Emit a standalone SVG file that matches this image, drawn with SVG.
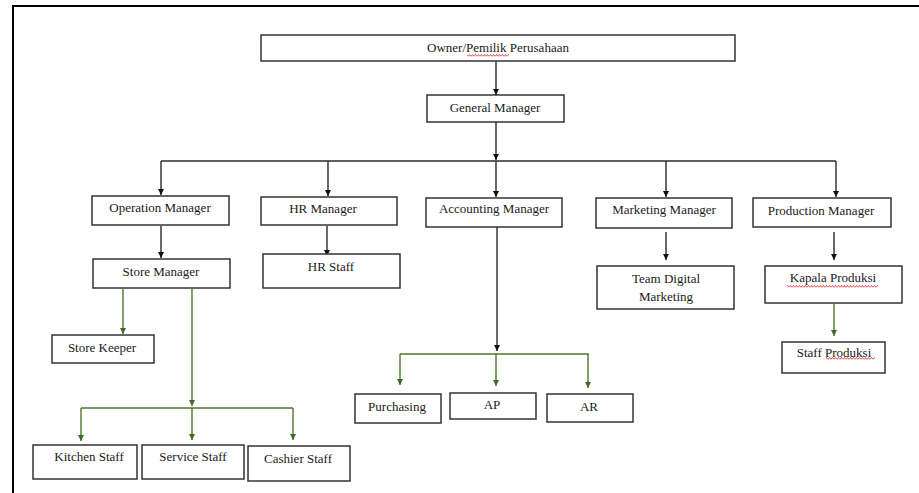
<svg xmlns="http://www.w3.org/2000/svg" width="919" height="493" viewBox="0 0 919 493">
<style>
.box{fill:#fff;stroke:#333;stroke-width:1.5}
.t{font-family:'Liberation Serif','DejaVu Serif',serif;font-size:13px;fill:#1a1a1a;text-anchor:middle}
.cb{fill:none;stroke:#2a2a2a;stroke-width:1.4}
.cg{fill:none;stroke:#4f7530;stroke-width:1.4}
.frame{fill:none;stroke:#000;stroke-width:2}
</style>
<defs>
<marker id="ab" markerUnits="userSpaceOnUse" markerWidth="7" markerHeight="7" refX="6" refY="3" orient="auto"><path d="M0,0 L6,3 L0,6 z" fill="#111"/></marker>
<marker id="ag" markerUnits="userSpaceOnUse" markerWidth="7" markerHeight="7" refX="6" refY="3" orient="auto"><path d="M0,0 L6,3 L0,6 z" fill="#3f6a22"/></marker>
<pattern id="sq" width="3" height="3" patternUnits="userSpaceOnUse"><path d="M0,2.5 L1.5,0.5 L3,2.5" stroke="#e02020" fill="none" stroke-width="0.8"/></pattern>
</defs>
<rect width="919" height="493" fill="#fff"/>
<path class="frame" d="M13,493 V6 H919"/>
<g id="connectors">
<path class="cb" d="M496,61 V95" marker-end="url(#ab)"/>
<path class="cb" d="M496,122 V160" marker-end="url(#ab)"/>
<path class="cb" d="M161,161 H836"/>
<path class="cb" d="M161,161 V195" marker-end="url(#ab)"/>
<path class="cb" d="M328,161 V196" marker-end="url(#ab)"/>
<path class="cb" d="M496,161 V197" marker-end="url(#ab)"/>
<path class="cb" d="M666,161 V197" marker-end="url(#ab)"/>
<path class="cb" d="M836,161 V197" marker-end="url(#ab)"/>
<path class="cb" d="M161,226 V258" marker-end="url(#ab)"/>
<path class="cb" d="M327,226 V256" marker-end="url(#ab)"/>
<path class="cb" d="M666,232 V260" marker-end="url(#ab)"/>
<path class="cb" d="M834,232 V260" marker-end="url(#ab)"/>
<path class="cb" d="M497,227 V351" marker-end="url(#ab)"/>
<path class="cg" d="M400,354 H589"/>
<path class="cg" d="M400,354 V385" marker-end="url(#ag)"/>
<path class="cg" d="M496,354 V386" marker-end="url(#ag)"/>
<path class="cg" d="M588,354 V388" marker-end="url(#ag)"/>
<path class="cg" d="M123,289 V334" marker-end="url(#ag)"/>
<path class="cg" d="M192,289 V406" marker-end="url(#ag)"/>
<path class="cg" d="M81,408 H293"/>
<path class="cg" d="M81,408 V441" marker-end="url(#ag)"/>
<path class="cg" d="M192,408 V440" marker-end="url(#ag)"/>
<path class="cg" d="M293,408 V440" marker-end="url(#ag)"/>
<path class="cg" d="M834,304 V336" marker-end="url(#ag)"/>
</g>
<g font-family="Liberation Serif, DejaVu Serif, serif">
<g id="owner"><rect class="box" x="261" y="35" width="474" height="26"/><text class="t" x="498" y="52">Owner/Pemilik Perusahaan</text><rect x="467" y="54" width="42" height="3" fill="url(#sq)"/></g>
<g id="gm"><rect class="box" x="427" y="95" width="137" height="27"/><text class="t" x="495" y="112">General Manager</text></g>
<g id="operation"><rect class="box" x="92" y="196" width="137" height="29"/><text class="t" x="160" y="212">Operation Manager</text></g>
<g id="hr"><rect class="box" x="261" y="197" width="136" height="28"/><text class="t" x="323" y="213">HR Manager</text></g>
<g id="accounting"><rect class="box" x="426" y="198" width="136" height="29"/><text class="t" x="494" y="213">Accounting Manager</text></g>
<g id="marketing"><rect class="box" x="596" y="198" width="136" height="30"/><text class="t" x="664" y="214">Marketing Manager</text></g>
<g id="production"><rect class="box" x="753" y="198" width="138" height="29"/><text class="t" x="821" y="215">Production Manager</text></g>
<g id="store-manager"><rect class="box" x="93" y="259" width="137" height="29"/><text class="t" x="161" y="276">Store Manager</text></g>
<g id="hr-staff"><rect class="box" x="263" y="254" width="137" height="34"/><text class="t" x="331" y="271">HR Staff</text></g>
<g id="team-digital"><rect class="box" x="597" y="266" width="137" height="43"/><text class="t" x="666" y="283">Team Digital</text><text class="t" x="666" y="301">Marketing</text></g>
<g id="kapala"><rect class="box" x="765" y="266" width="137" height="37"/><text class="t" x="833" y="282">Kapala Produksi</text><rect x="787" y="285" width="91" height="3" fill="url(#sq)"/></g>
<g id="staff-produksi"><rect class="box" x="782" y="342" width="103" height="31"/><text class="t" x="834" y="357">Staff Produksi</text><rect x="826" y="357" width="49" height="3" fill="url(#sq)"/></g>
<g id="store-keeper"><rect class="box" x="52" y="335" width="102" height="28"/><text class="t" x="102" y="352">Store Keeper</text></g>
<g id="purchasing"><rect class="box" x="355" y="394" width="86" height="29"/><text class="t" x="397" y="411">Purchasing</text></g>
<g id="ap"><rect class="box" x="450" y="393" width="86" height="26"/><text class="t" x="492" y="409">AP</text></g>
<g id="ar"><rect class="box" x="547" y="394" width="86" height="28"/><text class="t" x="589" y="411">AR</text></g>
<g id="kitchen"><rect class="box" x="33" y="445" width="104" height="34"/><text class="t" x="89" y="461">Kitchen Staff</text></g>
<g id="service"><rect class="box" x="142" y="445" width="102" height="34"/><text class="t" x="193" y="461">Service Staff</text></g>
<g id="cashier"><rect class="box" x="248" y="446" width="102" height="35"/><text class="t" x="298" y="463">Cashier Staff</text></g>
</g>
</svg>
